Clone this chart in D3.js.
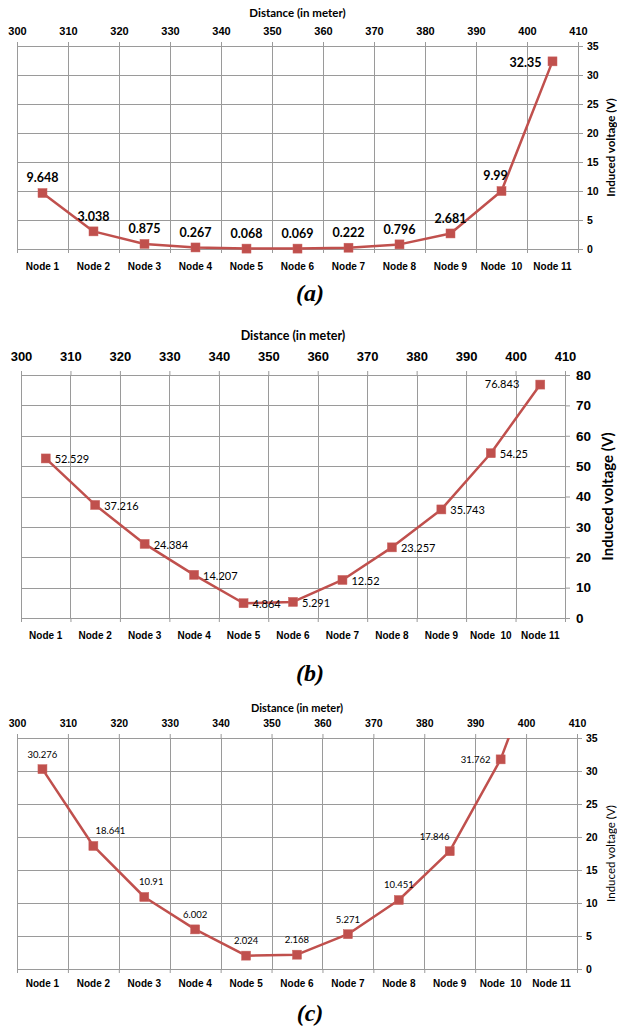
<!DOCTYPE html>
<html>
<head>
<meta charset="utf-8">
<script src="https://cdn.jsdelivr.net/npm/d3@7"></script>
<style>
  body { margin: 0; background: #fff; }
  svg { display: block; font-family: Lato, "Liberation Sans", sans-serif; }
</style>
</head>
<body>
<div id="chart"></div>
<script>
// data
const nodes = ["Node 1", "Node 2", "Node 3", "Node 4", "Node 5", "Node 6", "Node 7", "Node 8", "Node 9", "Node  10", "Node 11"];
const distanceTicks = [300, 310, 320, 330, 340, 350, 360, 370, 380, 390, 400, 410];
const voltTicks35 = [0, 5, 10, 15, 20, 25, 30, 35];
const voltTicks80 = [0, 10, 20, 30, 40, 50, 60, 70, 80];

const voltageA = [9.648, 3.038, 0.875, 0.267, 0.068, 0.069, 0.222, 0.796, 2.681, 9.99, 32.35];
const voltageB = [52.529, 37.216, 24.384, 14.207, 4.864, 5.291, 12.52, 23.257, 35.743, 54.25, 76.843];
const voltageC = [30.276, 18.641, 10.91, 6.002, 2.024, 2.168, 5.271, 10.451, 17.846, 31.762, 52.4];

const W = 617, H = 1026;
const red = "#C0504D";
const gridColor = "#9a9a9a";

const svg = d3.select("#chart").append("svg")
    .attr("width", W)
    .attr("height", H)
    .attr("viewBox", `0 0 ${W} ${H}`);

// label offsets relative to the marker: [dx, dy, anchor]
const above = (dx = 0) => [dx, -15, "middle"];
const right = [9, 1, "start"];

const panels = [
    {
        id: "a", values: voltageA, yTicks: voltTicks35, yMax: 35,
        left: 17, right: 578, top: 46, bottom: 249,
        titleY: 13, titleSize: 11.5, topSize: 11, topPad: 7,
        ySize: 10.5, yPad: 4, yTitleX: 611, yTitleSize: 11.5, yTitleWeight: "bold",
        nodeY: 17, nodeSize: 10,
        labelSize: 12.5, labelWeight: "bold",
        labelPos: [above(), above(), above(), above(), above(), above(), above(), above(), above(), above(-6), [-11, 1, "end"]],
        captionY: 293
    },
    {
        id: "b", values: voltageB, yTicks: voltTicks80, yMax: 80,
        left: 21, right: 565, top: 375, bottom: 618,
        titleY: 336, titleSize: 12.5, topSize: 13, topPad: 10,
        ySize: 13.5, yPad: 6, yTitleX: 608, yTitleSize: 15, yTitleWeight: "bold",
        nodeY: 17, nodeSize: 10,
        labelSize: 11, labelWeight: "normal",
        labelPos: [right, right, right, right, right, right, right, right, right, right, [-21, 0, "end"]],
        captionY: 673
    },
    {
        id: "c", values: voltageC, yTicks: voltTicks35, yMax: 35,
        left: 17, right: 577, top: 738, bottom: 969,
        titleY: 708, titleSize: 11, topSize: 10.5, topPad: 7,
        ySize: 10.5, yPad: 4, yTitleX: 611, yTitleSize: 11.5, yTitleWeight: "normal",
        nodeY: 14, nodeSize: 10,
        labelSize: 9.5, labelWeight: "normal",
        labelPos: [above(), above(17), above(7), above(), above(), above(), above(), above(), above(-15), [-10, 0, "end"], above()],
        captionY: 1013
    }
];

panels.forEach(drawPanel);

function drawPanel(p) {
    const g = svg.append("g").attr("class", `panel-${p.id}`);

    const x = d3.scaleLinear().domain([300, 410]).range([p.left, p.right]);
    const xb = d3.scaleBand().domain(nodes).range([p.left, p.right]);
    const y = d3.scaleLinear().domain([0, p.yMax]).range([p.bottom, p.top]);
    const cx = d => xb(d) + xb.bandwidth() / 2;

    // grid
    g.append("g").selectAll("line")
        .data(distanceTicks)
        .join("line")
        .attr("x1", d => Math.round(x(d)) + 0.5)
        .attr("x2", d => Math.round(x(d)) + 0.5)
        .attr("y1", p.top)
        .attr("y2", p.bottom)
        .attr("stroke", gridColor);
    g.append("g").selectAll("line")
        .data(p.yTicks)
        .join("line")
        .attr("x1", p.left)
        .attr("x2", p.right)
        .attr("y1", d => Math.round(y(d)) + 0.5)
        .attr("y2", d => Math.round(y(d)) + 0.5)
        .attr("stroke", gridColor);

    // top distance axis
    const top = g.append("g")
        .attr("transform", `translate(0,${p.top})`)
        .call(d3.axisTop(x).tickValues(distanceTicks).tickSize(4).tickPadding(p.topPad));
    top.select(".domain").remove();
    top.selectAll("line").attr("stroke", gridColor);
    top.selectAll("text")
        .attr("font-family", null).attr("font-size", p.topSize)
        .attr("font-weight", "bold").attr("fill", "#000");

    g.append("text")
        .attr("x", (p.left + p.right) / 2)
        .attr("y", p.titleY)
        .attr("dy", "0.35em")
        .attr("text-anchor", "middle")
        .attr("font-size", p.titleSize)
        .attr("font-weight", "bold")
        .text("Distance (in meter)");

    // right voltage axis
    const ax = g.append("g")
        .attr("transform", `translate(${p.right},0)`)
        .call(d3.axisRight(y).tickValues(p.yTicks).tickSize(5).tickPadding(p.yPad));
    ax.select(".domain").remove();
    ax.selectAll("line").attr("stroke", gridColor);
    ax.selectAll("text")
        .attr("font-family", null).attr("font-size", p.ySize)
        .attr("font-weight", "bold").attr("fill", "#000");

    g.append("text")
        .attr("transform", `translate(${p.yTitleX},${(p.top + p.bottom) / 2}) rotate(-90)`)
        .attr("text-anchor", "middle")
        .attr("dy", "0.35em")
        .attr("font-size", p.yTitleSize)
        .attr("font-weight", p.yTitleWeight)
        .text("Induced voltage (V)");

    // bottom category axis: ticks at band edges, labels at centres
    const bt = g.append("g")
        .attr("transform", `translate(0,${p.bottom})`)
        .call(d3.axisBottom(x).tickValues(distanceTicks).tickSize(4).tickFormat(""));
    bt.select(".domain").remove();
    bt.selectAll("line").attr("stroke", gridColor);

    const bl = g.append("g")
        .attr("transform", `translate(0,${p.bottom})`)
        .call(d3.axisBottom(xb).tickSize(0));
    bl.select(".domain").remove();
    bl.selectAll("text")
        .attr("font-family", null).attr("font-size", p.nodeSize)
        .attr("font-weight", "bold").attr("fill", "#000")
        .attr("y", p.nodeY).attr("dy", "0.35em")
        .style("white-space", "pre");

    // series
    const clipId = `clip-${p.id}`;
    g.append("clipPath").attr("id", clipId)
        .append("rect")
        .attr("x", p.left - 6).attr("y", p.top)
        .attr("width", p.right - p.left + 12).attr("height", p.bottom - p.top + 6);

    const pts = nodes.map((n, i) => ({ node: n, value: p.values[i], i }));
    const plot = g.append("g").attr("clip-path", `url(#${clipId})`);

    plot.append("path")
        .datum(pts)
        .attr("fill", "none")
        .attr("stroke", red)
        .attr("stroke-width", 2.5)
        .attr("stroke-linejoin", "round")
        .attr("d", d3.line().x(d => cx(d.node)).y(d => y(d.value)));

    const inside = pts.filter(d => d.value <= p.yMax);

    plot.selectAll("rect.marker")
        .data(inside)
        .join("rect")
        .attr("class", "marker")
        .attr("x", d => cx(d.node) - 4.5)
        .attr("y", d => y(d.value) - 4.5)
        .attr("width", 9)
        .attr("height", 9)
        .attr("fill", red)
        .attr("stroke", "#c9625f")
        .attr("stroke-width", 0.5);

    g.selectAll("text.value")
        .data(inside)
        .join("text")
        .attr("class", "value")
        .attr("x", d => cx(d.node) + p.labelPos[d.i][0])
        .attr("y", d => y(d.value) + p.labelPos[d.i][1])
        .attr("dy", "0.35em")
        .attr("text-anchor", d => p.labelPos[d.i][2])
        .attr("font-size", p.labelSize)
        .attr("font-weight", p.labelWeight)
        .attr("fill", "#000")
        .text(d => d.value);

    // caption
    svg.append("text")
        .attr("x", 310)
        .attr("y", p.captionY)
        .attr("dy", "0.35em")
        .attr("text-anchor", "middle")
        .attr("font-family", "'Liberation Serif', 'DejaVu Serif', serif")
        .attr("font-size", 24)
        .attr("font-weight", "bold")
        .attr("font-style", "italic")
        .text(`(${p.id})`);
}
</script>
</body>
</html>
